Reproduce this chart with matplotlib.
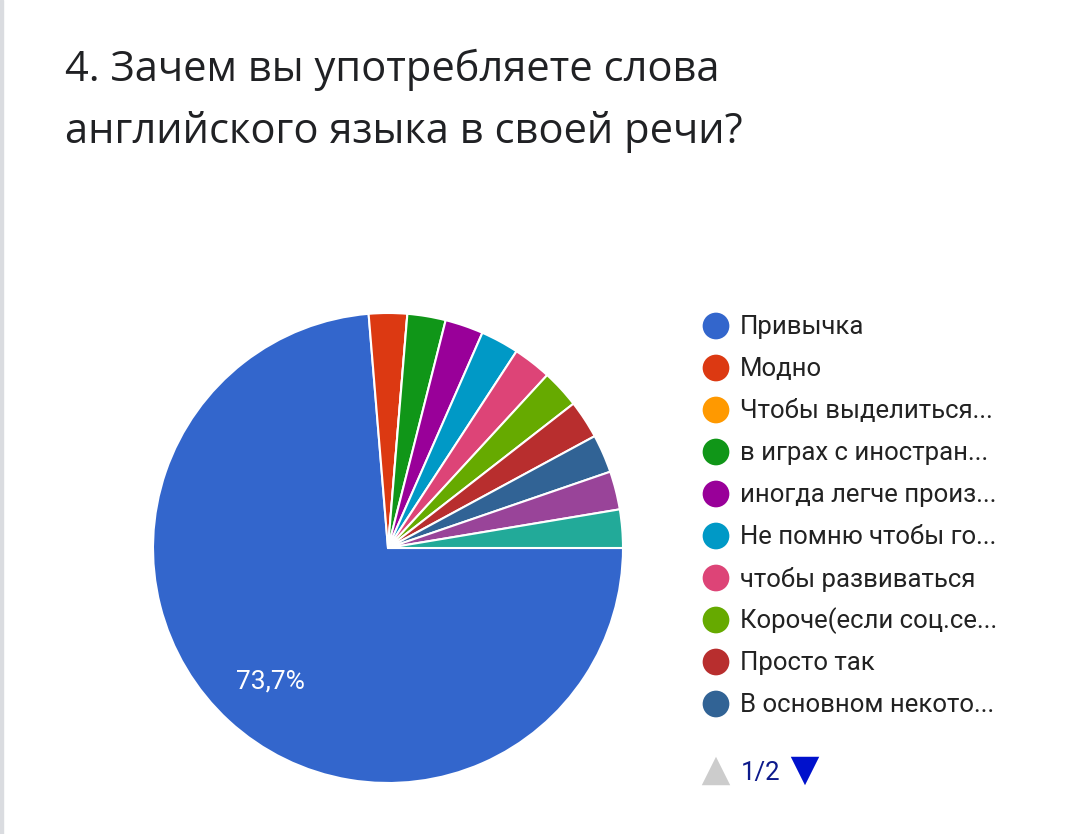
import matplotlib.pyplot as plt
from matplotlib.patches import Rectangle

# ==================================================
# Data (38 answers, Google Forms pie)
# ==================================================
slice_values = [28, 1, 0, 1, 1, 1, 1, 1, 1, 1, 1, 1]
slice_colors = ['#3366cc', '#dc3912', '#ff9900', '#109618', '#990099', '#0099c6',
                '#dd4477', '#66aa00', '#b82e2e', '#316395', '#994499', '#22aa99']
legend_labels = ['Привычка', 'Модно', 'Чтобы выделиться...', 'в играх с иностран...',
                 'иногда легче произ...', 'Не помню чтобы го...', 'чтобы развиваться',
                 'Короче(если соц.се...', 'Просто так', 'В основном некото...']
title_lines = ['4. Зачем вы употребляете слова', 'английского языка в своей речи?']
page_text = '1/2'

W, H = 1077, 834
fig = plt.figure(figsize=(W / 100, H / 100), dpi=100)
ax = fig.add_axes([0, 0, 1, 1])
ax.set_xlim(0, W)
ax.set_ylim(0, H)
ax.set_aspect('equal')
ax.axis('off')

# left grey border strip
ax.add_patch(Rectangle((0, 0), 3, H, color='#dadce0', zorder=0))

# ==================================================
# Title
# ==================================================
ax.text(65, H - 81, title_lines[0], fontsize=30, color='#202124',
        family='Open Sans', va='baseline', ha='left')
ax.text(65, H - 143, title_lines[1], fontsize=30, color='#202124',
        family='Open Sans', va='baseline', ha='left')

# ==================================================
# Pie
# ==================================================
total = sum(slice_values)
wedges, _ = ax.pie(slice_values, colors=slice_colors, startangle=0, counterclock=False,
                   center=(388, H - 548), radius=235, frame=True,
                   wedgeprops=dict(edgecolor='white', linewidth=1.5))
ax.set_xlim(0, W)
ax.set_ylim(0, H)
ax.axis('off')

pct = slice_values[0] / total * 100
ax.text(270, H - 681, f'{pct:.1f}%'.replace('.', ','), fontsize=19, color='white',
        family='Roboto', ha='center', va='center')

# ==================================================
# Legend
# ==================================================
for i, lab in enumerate(legend_labels):
    y = H - (326 + 42 * i)
    ax.scatter([716], [y], s=370, color=slice_colors[i], edgecolors='none', zorder=3)
    ax.text(740, y - 1, lab, fontsize=18.5, color='#222222', family='Roboto',
            ha='left', va='center')

# pager
py = H - 773
ax.scatter([716], [py + 2], marker='^', s=420, color='#cccccc', edgecolors='none')
ax.text(741, py, page_text, fontsize=18.5, color='#0d1a8c', family='Roboto',
        ha='left', va='center')
ax.scatter([805], [py + 2], marker='v', s=420, color='#0011cc', edgecolors='none')

fig.savefig('out.png', dpi=100, facecolor='white')
